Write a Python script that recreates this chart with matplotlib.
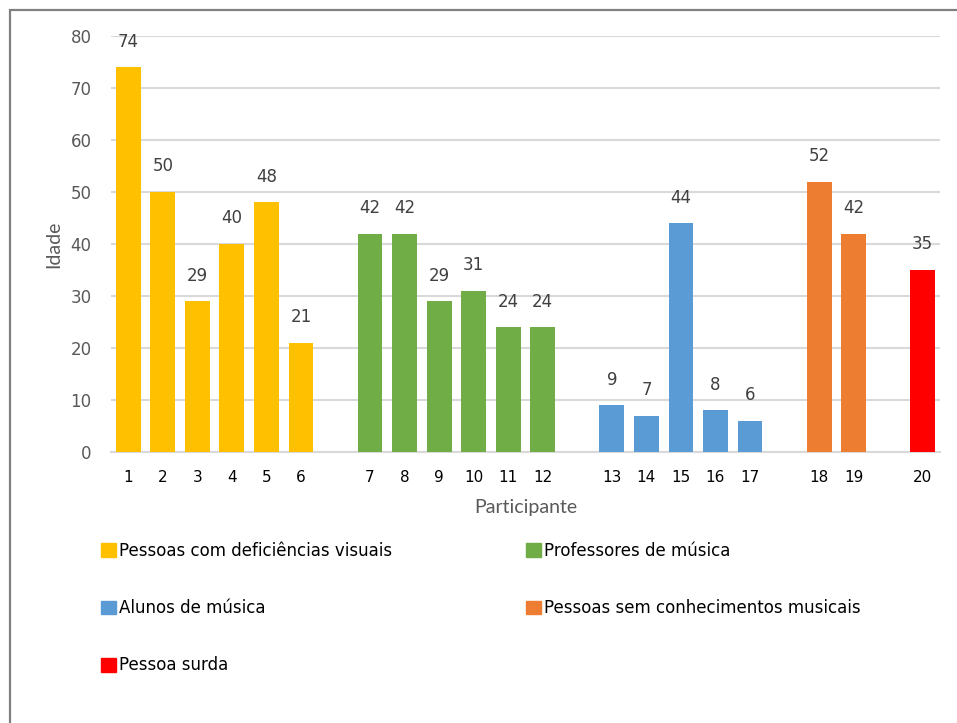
import matplotlib.pyplot as plt
from matplotlib.patches import Rectangle, Patch

# participants grouped by category
groups = ["Pessoas com deficiências visuais", "Professores de música",
          "Alunos de música", "Pessoas sem conhecimentos musicais", "Pessoa surda"]
participants = [[1, 2, 3, 4, 5, 6], [7, 8, 9, 10, 11, 12],
                [13, 14, 15, 16, 17], [18, 19], [20]]
ages = [[74, 50, 29, 40, 48, 21], [42, 42, 29, 31, 24, 24],
        [9, 7, 44, 8, 6], [52, 42], [35]]
colors = ["#FFC000", "#70AD47", "#5B9BD5", "#ED7D31", "#FF0000"]

fig = plt.figure(figsize=(9.57, 7.23), dpi=100)
ax = fig.add_axes([111 / 957, 1 - 452 / 723, 829 / 957, 416 / 723])

# outer frame
fig.patches.append(Rectangle((10 / 957, -0.1), 1.2, 1.1 - 10 / 723,
                             transform=fig.transFigure, fill=False,
                             edgecolor="#808080", linewidth=1.6))

pos = 0
xticks, xlabels = [], []
for name, ids, vals, c in zip(groups, participants, ages, colors):
    xs = list(range(pos, pos + len(ids)))
    bars = ax.bar(xs, vals, width=0.72, color=c, zorder=3, label=name)
    for b, v in zip(bars, vals):
        ax.annotate(str(v), (b.get_x() + b.get_width() / 2, v),
                    xytext=(0, 12), textcoords="offset points",
                    ha="center", va="bottom", fontsize=12, color="#404040")
    xticks += xs
    xlabels += [str(i) for i in ids]
    pos += len(ids) + 1

ax.set_xlim(-0.5, pos - 1.5)
ax.set_ylim(0, 80)
ax.set_yticks(range(0, 81, 10))
ax.set_xticks(xticks)
ax.set_xticklabels(xlabels)
ax.tick_params(axis="y", length=0, labelsize=12, labelcolor="#595959", pad=14)
ax.tick_params(axis="x", length=0, labelsize=11, labelcolor="#000000", pad=13)
ax.grid(axis="y", color="#d9d9d9", linewidth=1.5, zorder=0)
for s in ["top", "right", "left"]:
    ax.spines[s].set_visible(False)
ax.spines["bottom"].set_color("#d9d9d9")
ax.spines["bottom"].set_linewidth(1.5)

ax.set_ylabel("Idade", fontsize=14, color="#595959", family="Lato", labelpad=6)
ax.set_xlabel("Participante", fontsize=14, color="#595959", family="Lato", labelpad=10)

handles = [Patch(color=c) for c in colors]
order = [0, 2, 4, 1, 3]
fig.legend([handles[i] for i in order], [groups[i] for i in order],
           ncol=2, loc="upper left", bbox_to_anchor=(86 / 957, 1 - 527 / 723),
           frameon=False, fontsize=12, handlelength=0.9, handleheight=0.9,
           handletextpad=0.2, columnspacing=8.0, labelspacing=2.35)

fig.savefig("out.png", dpi=100)
